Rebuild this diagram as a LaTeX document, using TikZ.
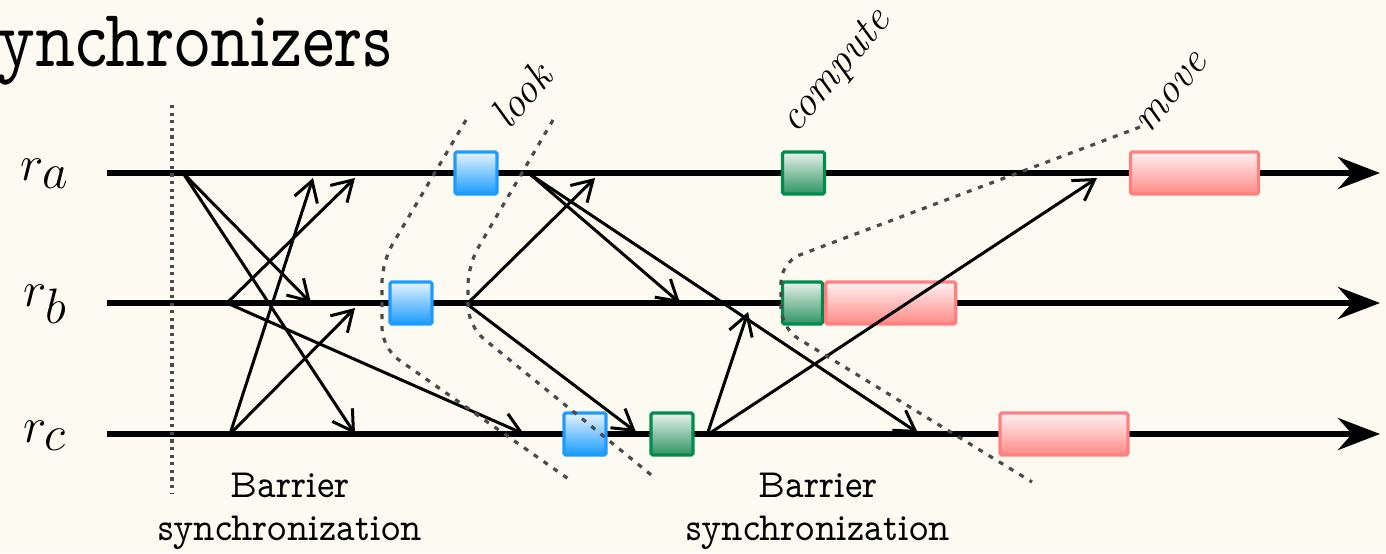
\documentclass[tikz,border=0pt]{standalone}
\usepackage{fontspec}
\usetikzlibrary{arrows.meta}
\definecolor{bg}{HTML}{FDFAF2}
\definecolor{bluebd}{HTML}{1E9BFF}
\definecolor{bluetop}{HTML}{E6F3FF}
\definecolor{bluebot}{HTML}{1A9CFF}
\definecolor{greenbd}{HTML}{008C4B}
\definecolor{greentop}{HTML}{E8F1EC}
\definecolor{greenbot}{HTML}{2E9563}
\definecolor{redbd}{HTML}{FF8080}
\definecolor{redtop}{HTML}{FFF2F2}
\definecolor{redbot}{HTML}{FF8A86}
\definecolor{dashgray}{HTML}{4A4A4A}
\newcommand{\slab}{\fontfamily{lmvtt}\selectfont}
\begin{document}
\begin{tikzpicture}[x=0.5pt,y=-0.5pt,
  timeline/.style={line width=3pt,-{Stealth[length=21pt,width=16pt,inset=7pt]}},
  msg/.style={line width=1.5pt,-{Straight Barb[length=10pt,width=12pt]}},
  phase/.style={line width=1.6pt,dashgray,dash pattern=on 2.5pt off 3.5pt,rounded corners=10pt},
  barrier/.style={line width=1.6pt,dashgray,dash pattern=on 1.6pt off 2.2pt},
  boxbase/.style={draw,line width=1.6pt,rounded corners=0.8pt,minimum height=21pt,inner sep=0pt},
  bluebox/.style={boxbase,draw=bluebd,top color=bluetop,bottom color=bluebot,minimum width=21pt},
  greenbox/.style={boxbase,draw=greenbd,top color=greentop,bottom color=greenbot,minimum width=21pt},
  redbox/.style={boxbase,draw=redbd,top color=redtop,bottom color=redbot},
  rlabel/.style={font=\fontsize{35}{40}\selectfont,inner sep=0pt},
  phlabel/.style={font=\fontsize{21}{24}\selectfont\itshape,rotate=50,inner sep=0pt},
  btext/.style={font=\fontsize{20}{21.5}\selectfont\slab,align=center,inner sep=0pt,xscale=0.92}
]
\fill[bg] (0,0) rectangle (1386,553);
\useasboundingbox (0,0) rectangle (1386,553);

% title
\node[anchor=base west,inner sep=0pt,xscale=0.84,font=\fontsize{41}{44}\selectfont\slab] (title) at (-3,66) {ynchronizers};

% timelines
\coordinate (la0) at (107,173); \coordinate (la1) at (1380,173);
\coordinate (lb0) at (107,303); \coordinate (lb1) at (1380,303);
\coordinate (lc0) at (107,434); \coordinate (lc1) at (1380,434);
\draw[timeline] (la0) -- (la1);
\draw[timeline] (lb0) -- (lb1);
\draw[timeline] (lc0) -- (lc1);

\node[rlabel] (ra) at (45,174) {$r_a$};
\node[rlabel] (rb) at (45,304) {$r_b$};
\node[rlabel] (rc) at (45,436) {$r_c$};

% barrier dotted line
\coordinate (bt) at (172,105); \coordinate (bb) at (172,493);
\draw[barrier] (bt) -- (bb);

% boxes
\node[bluebox] (lka) at (476,173) {};
\node[bluebox] (lkb) at (411,303) {};
\node[bluebox] (lkc) at (585,434) {};
\node[greenbox] (cpa) at (803.5,173) {};
\node[greenbox,minimum width=20pt] (cpb) at (802.5,303) {};
\node[greenbox] (cpc) at (672,434) {};
\node[redbox,minimum width=64pt] (mva) at (1194.5,173) {};
\node[redbox,minimum width=65pt,anchor=west] (mvb) at (cpb.east) {};
\node[redbox,minimum width=64pt] (mvc) at (1064,434) {};

% message endpoints
\coordinate (s1) at (183,173);
\coordinate (s2) at (227,303);
\coordinate (s3) at (230,434);
\coordinate (s4) at (467,304);
\coordinate (s5) at (531,175);
\coordinate (s6) at (707,435);
\coordinate (e1) at (311,303);
\coordinate (e2) at (355,434);
\coordinate (e3) at (355,178);
\coordinate (e4) at (524,434);
\coordinate (e5) at (313,178);
\coordinate (e6) at (355,308);
\coordinate (e7) at (595,178);
\coordinate (e8) at (636,432);
\coordinate (e9) at (680,303);
\coordinate (e10) at (918,433);
\coordinate (e11) at (748,312);
\coordinate (e12) at (1097,178);

\draw[msg] (s1) -- (e1);
\draw[msg] (s1) -- (e2);
\draw[msg] (s2) -- (e3);
\draw[msg] (s2) -- (e4);
\draw[msg] (s3) -- (e5);
\draw[msg] (s3) -- (e6);
\draw[msg] (s4) -- (e7);
\draw[msg] (s4) -- (e8);
\draw[msg] (s5) -- (e9);
\draw[msg] (s5) -- (e10);
\draw[msg] (s6) -- (e11);
\draw[msg] (s6) -- (e12);

% phase boundaries
\coordinate (p1a) at (466,120); \coordinate (p1b) at (382,262); \coordinate (p1c) at (382,348); \coordinate (p1d) at (570,480);
\coordinate (p2a) at (553,120); \coordinate (p2b) at (468,265); \coordinate (p2c) at (468,326); \coordinate (p2d) at (655,478);
\coordinate (p3a) at (1140,127); \coordinate (p3b) at (781,262); \coordinate (p3c) at (781,328); \coordinate (p3d) at (1032,482);
\draw[phase] (p1a) -- (p1b) -- (p1c) -- (p1d);
\draw[phase] (p2a) -- (p2b) -- (p2c) -- (p2d);
\draw[phase] (p3a) -- (p3b) -- (p3c) -- (p3d);

% phase labels
\node[phlabel] (look) at (521,95) {look};
\node[phlabel] (compute) at (837,72) {compute};
\node[phlabel] (move) at (1172,93) {move};

% barrier labels
\node[btext] (bar1) at (290,511) {Barrier\\synchronization};
\node[btext] (bar2) at (818,511) {Barrier\\synchronization};
\end{tikzpicture}
\end{document}
